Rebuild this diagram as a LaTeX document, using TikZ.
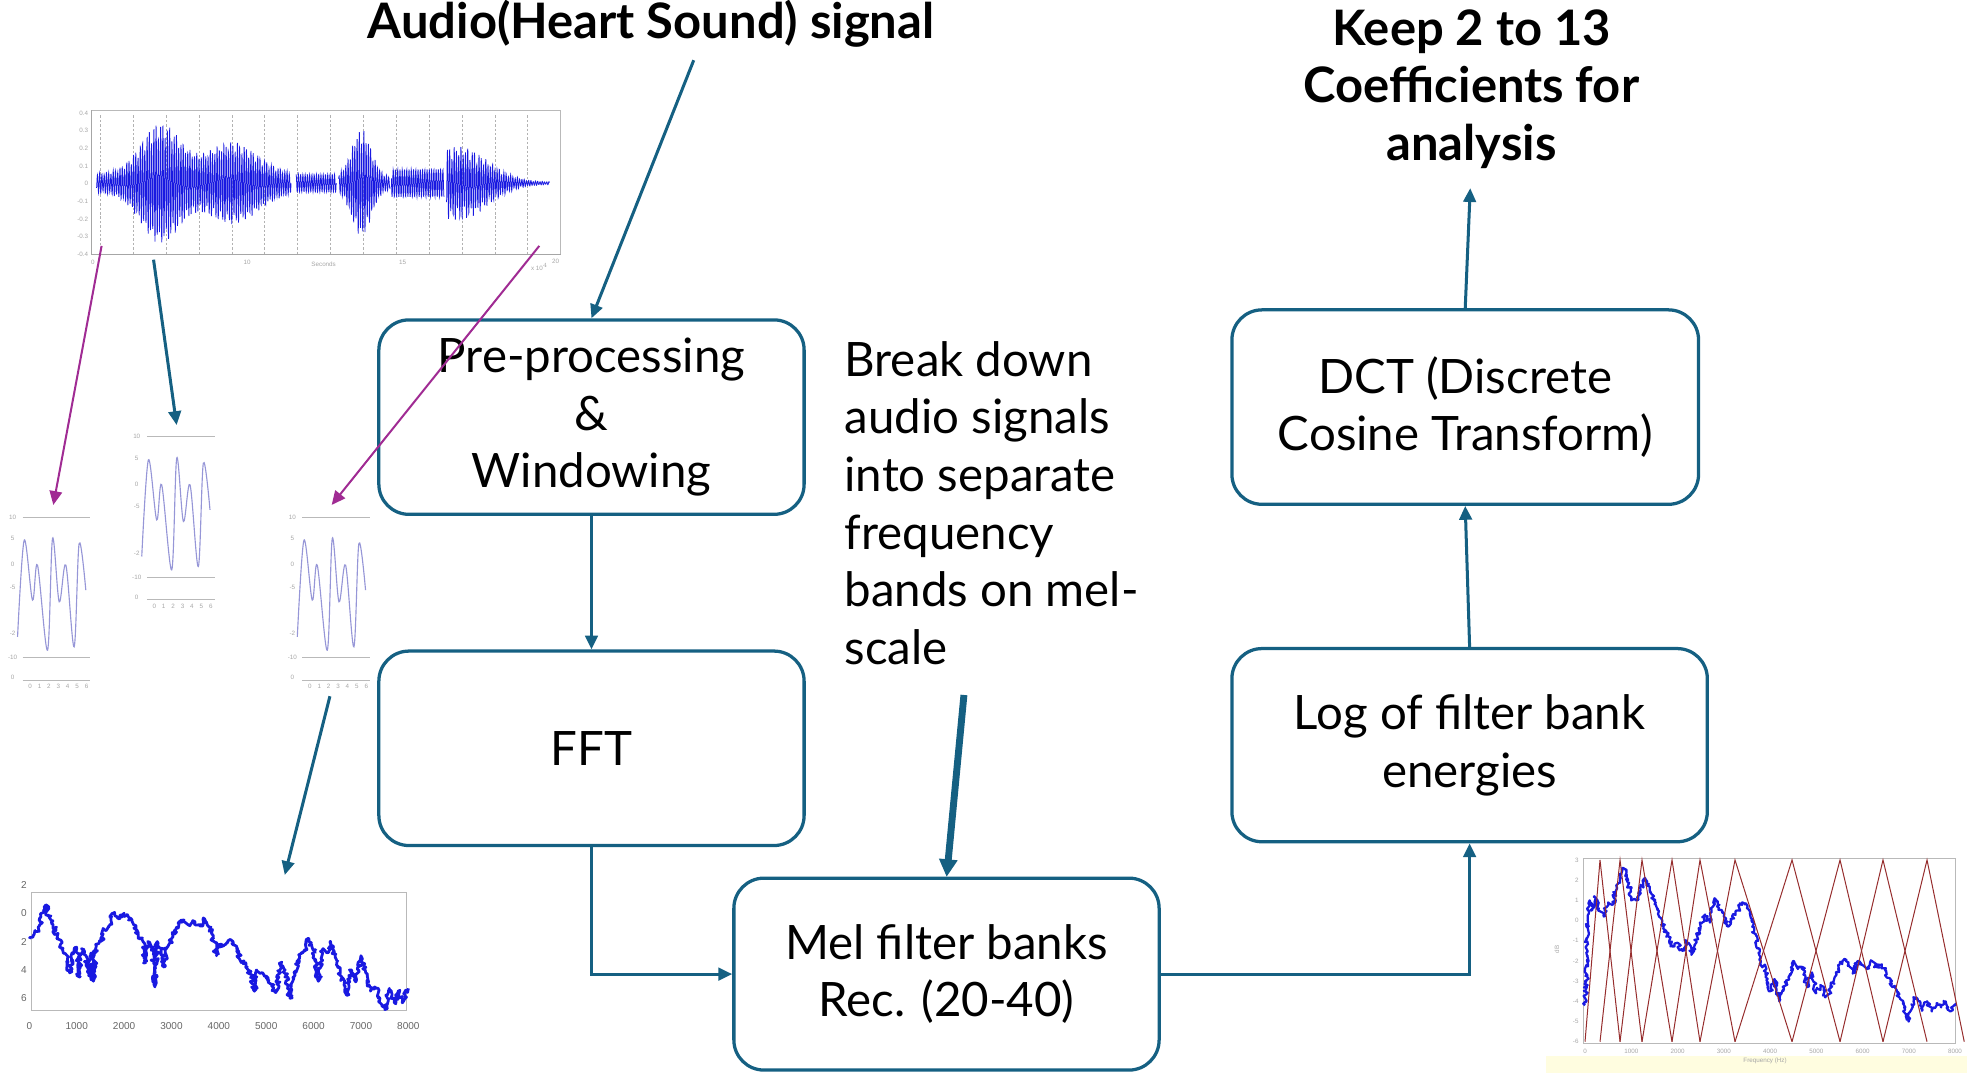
\documentclass[tikz,border=0pt]{standalone}
\usepackage{fontspec}
\setmainfont{Lato}
\newfontfamily\plotfont{Liberation Sans}
\usetikzlibrary{arrows.meta,decorations.pathmorphing,calc}
\definecolor{tealline}{HTML}{156082}
\definecolor{purpline}{HTML}{A02B93}
\definecolor{waveblue}{RGB}{25,25,225}
\definecolor{lavwave}{RGB}{150,150,215}
\definecolor{melred}{RGB}{150,45,45}
\newcommand{\bxfont}{\fontsize{37.8}{46}\selectfont}
\newcommand{\bdfont}{\fontsize{39}{46}\selectfont\bfseries}
\newcommand{\tinyfont}{\plotfont\fontsize{5}{6}\selectfont}
\newcommand{\smfont}{\plotfont\fontsize{8}{9}\selectfont}
\begin{document}
\begin{tikzpicture}[x=1pt,y=-1pt,
  box/.style={draw=tealline, line width=2.6pt, rounded corners=24pt, align=center, font=\bxfont, inner sep=0pt},
  conn/.style={draw=tealline, line width=2.4pt, -{Triangle[length=11pt,width=10pt]}},
  thickconn/.style={draw=tealline, line width=5.5pt, -{Triangle[length=14pt,width=14pt]}},
  pconn/.style={draw=purpline, line width=1.6pt, -{Triangle[length=11pt,width=10pt]}},
  wave/.style={draw=waveblue, line width=0.6pt},
  noisy/.style={draw=waveblue, line width=2.2pt, line join=round, decorate, decoration={random steps, segment length=1.3pt, amplitude=2pt}},
  axisline/.style={draw=gray!55, line width=0.5pt},
  grid/.style={draw=gray!60, line width=0.4pt, dash pattern=on 2pt off 1.5pt},
  ticklab/.style={font=\tinyfont, text=gray!70, inner sep=0.5pt},
  plotlab/.style={font=\smfont, text=gray!80!black, inner sep=0.5pt},
  smallplot/.pic={
    \draw[axisline] (12,8) -- (66,8);
    \draw[axisline] (12,120) -- (66,120);
    \draw[axisline] (12,138) -- (66,138);
    \draw[draw=lavwave, line width=0.9pt] plot[smooth, tension=0.55] coordinates {(8,103.6) (13.3,26.6) (19.9,74.4) (23.9,46.5) (31.9,114.3) (35.9,25.2) (41.2,75.7) (46.5,46.5) (53.1,111.6) (57.1,29.2) (62.4,66.4)};
    \node[ticklab] at (4,8) {10};
    \node[ticklab] at (4,25) {5};
    \node[ticklab] at (4,46) {0};
    \node[ticklab] at (4,64) {-5};
    \node[ticklab] at (4,101) {-2};
    \node[ticklab] at (4,120) {-10};
    \node[ticklab] at (4,136) {0};
    \foreach \k in {0,...,6} {\node[ticklab] at (18+7.5*\k,143) {\k};}
  }
]
\useasboundingbox (0,0) rectangle (1568,855);
\pgfmathsetseed{7}

% ---------------- top-left waveform ----------------
\draw[axisline] (73,88) rectangle (447,203);
\draw[draw=gray!70, line width=1pt] (73,88) -- (73,203) -- (447,203);
\foreach \k in {0,...,13} {\draw[grid] ({80+26.2*\k},92) -- ({80+26.2*\k},203);}
\draw[wave] plot[domain=77:232, samples=900] (\x, {146 - (8+40*exp(-((\x-128)/22)^2)+25*exp(-((\x-185)/28)^2))*(0.7+0.3*abs(sin(360*frac(\x/11))))*sin(360*frac(\x/1.8)+40)});
\draw[wave] plot[domain=236:268, samples=190] (\x, {146 - 7*sin(360*frac(\x/1.8)+40)});
\draw[wave] plot[domain=270:311, samples=240] (\x, {146 - (5+38*exp(-((\x-288)/11)^2))*(0.7+0.3*abs(sin(360*frac(\x/9))))*sin(360*frac(\x/1.8)+40)});
\draw[wave] plot[domain=312:354, samples=240] (\x, {146 - 11*sin(360*frac(\x/1.8)+40)});
\draw[wave] plot[domain=356:438, samples=470] (\x, {146 - (1+29*exp(-((\x-365)/33)^2))*(0.6+0.4*abs(sin(360*frac(\x/10))))*sin(360*frac(\x/1.8)+40)});
\foreach \v [count=\i from 0] in {0.4,0.3,0.2,0.1,0,-0.1,-0.2,-0.3,-0.4} {\node[ticklab, anchor=east] at (71,{90+14.1*\i}) {\v};}
\node[ticklab] at (74,209) {0};
\node[ticklab] at (197,209) {10};
\node[ticklab] at (258,211) {Seconds};
\node[ticklab] at (321,209) {15};
\node[ticklab] at (443,208) {20};
\node[ticklab] at (430,213) {x 10$^4$};

% ---------------- small frames ----------------
\pic at (6,404) {smallplot};
\pic at (105,340) {smallplot};
\pic at (229,404) {smallplot};

% ---------------- bottom-left spectrum ----------------
\draw[axisline] (25.2,711) rectangle (324.2,805);
\node[plotlab, anchor=east] at (22,705.4) {2};
\node[plotlab, anchor=east] at (22,728.0) {0};
\node[plotlab, anchor=east] at (22,750.6) {2};
\node[plotlab, anchor=east] at (22,773.2) {4};
\node[plotlab, anchor=east] at (22,795.7) {6};
\foreach \f in {0,1000,...,8000} {\node[plotlab] at ({23.4+0.037765*\f},818) {\f};}
\begin{scope}[shift={(23.4,728)}, x=0.037765pt, y=11.29pt]
\draw[noisy] plot coordinates {(0,-1.8) (100,-1.5) (200,-1.2) (300,0.2) (350,0.6) (400,-0.2) (500,-0.8) (600,-1.8) (700,-2.5) (800,-3.0) (850,-4.2) (900,-2.8) (1000,-2.5) (1050,-4.5) (1100,-2.5) (1200,-3.0) (1250,-4.4) (1300,-2.8) (1350,-4.8) (1400,-2.2) (1500,-2.0) (1600,-1.2) (1700,-0.8) (1750,0.0) (1900,-0.4) (2000,0.0) (2100,-0.3) (2200,-0.8) (2300,-1.5) (2400,-2.0) (2450,-3.5) (2500,-2.0) (2600,-2.4) (2650,-5.2) (2700,-2.0) (2800,-2.5) (2850,-3.8) (2900,-2.5) (3000,-1.8) (3100,-1.0) (3200,-0.5) (3400,-0.8) (3500,-0.6) (3600,-0.9) (3700,-0.4) (3800,-1.0) (3900,-2.0) (3950,-3.0) (4000,-2.2) (4100,-2.3) (4200,-1.9) (4300,-2.0) (4400,-2.8) (4500,-3.4) (4600,-3.8) (4700,-4.5) (4750,-5.5) (4800,-4.0) (4900,-4.2) (5000,-4.6) (5100,-5.0) (5200,-5.6) (5300,-3.5) (5400,-4.0) (5500,-6.0) (5600,-4.2) (5700,-3.2) (5800,-2.6) (5900,-1.8) (6000,-2.6) (6100,-4.8) (6200,-2.5) (6300,-2.8) (6350,-2.0) (6400,-2.5) (6500,-3.8) (6600,-4.5) (6700,-5.8) (6800,-4.0) (6900,-4.8) (7000,-3.0) (7100,-4.2) (7200,-5.5) (7300,-5.2) (7400,-6.0) (7500,-6.8) (7600,-5.3) (7700,-6.3) (7800,-5.5) (7900,-6.2) (8000,-5.3)};
\end{scope}

% ---------------- bottom-right mel plot ----------------
\fill[yellow!12] (1232,842) rectangle (1568,855);
\draw[axisline] (1261.9,683.9) rectangle (1558.4,831.4);
\foreach \v [count=\i from 0] in {3,2,1,0,-1,-2,-3,-4,-5,-6} {\node[ticklab, anchor=east] at (1259,{685.5+16.1*\i}) {\v};}
\node[ticklab, rotate=90] at (1241,757) {dB};
\foreach \f in {0,1000,...,8000} {\node[ticklab] at ({1263.5+0.036867*\f},838) {\f};}
\node[ticklab] at (1407,846) {Frequency (Hz)};
\begin{scope}[shift={(1263.5,733.8)}, x=0.036867pt, y=16.1pt]
\draw[noisy, line width=1.8pt, decoration={random steps, segment length=1.3pt, amplitude=1.8pt}] plot coordinates {(0,-4.2) (30,-3) (60,0) (100,1) (150,0.5) (200,1.2) (300,0.6) (400,0.2) (500,0.9) (600,0.8) (700,1.8) (800,2.6) (900,2.4) (1000,1.1) (1100,1.0) (1200,1.5) (1300,2.1) (1400,1.6) (1500,0.8) (1600,0.2) (1700,-0.3) (1800,-0.8) (1900,-1.3) (2000,-1.1) (2100,-1.5) (2200,-1.0) (2300,-1.7) (2400,-1.0) (2500,-0.3) (2600,0.3) (2700,-0.1) (2800,1.1) (2900,0.6) (3000,0.2) (3100,-0.3) (3200,0.1) (3300,0.5) (3400,0.9) (3500,0.6) (3600,0.0) (3700,-1.0) (3800,-2.0) (3900,-2.5) (4000,-3.5) (4100,-2.9) (4200,-4.0) (4300,-3.3) (4400,-2.8) (4500,-2.0) (4600,-2.4) (4700,-2.3) (4800,-3.3) (4900,-2.6) (5000,-3.6) (5100,-3.2) (5200,-3.8) (5300,-3.5) (5400,-2.8) (5500,-2.2) (5600,-1.9) (5700,-2.2) (5800,-2.6) (5900,-2.0) (6000,-2.2) (6100,-2.4) (6200,-2.0) (6300,-2.3) (6400,-2.2) (6500,-2.5) (6600,-3.0) (6700,-3.3) (6800,-3.8) (6900,-4.3) (7000,-5.0) (7100,-3.8) (7200,-4.0) (7300,-4.4) (7400,-4.0) (7500,-4.5) (7600,-4.1) (7700,-4.3) (7800,-4.0) (7900,-4.5) (8000,-4.1)};
\foreach \a/\b/\c in {0/324/757, 324/757/1232, 757/1232/1881, 1232/1881/2486, 1881/2486/3243, 2486/3243/4476, 3243/4476/5514, 4476/5514/6443, 5514/6443/7395, 6443/7395/8200}
  {\draw[melred, line width=0.8pt] (\a,-6) -- (\b,3) -- (\c,-6);}
\end{scope}

% ---------------- boxes ----------------
\node[box, minimum width=339pt, minimum height=155pt] (pre) at (471.5,332.5) {Pre-processing\\\&\\Windowing};
\node[box, minimum width=339pt, minimum height=155pt] (fft) at (471.5,596.5) {FFT};
\node[box, minimum width=339pt, minimum height=153pt] (mel) at (754.5,776.5) {Mel filter banks\\Rec. (20-40)};
\node[box, minimum width=379pt, minimum height=154pt] (log) at (1171.5,594) {Log of filter bank\\energies};
\node[box, minimum width=372pt, minimum height=155pt] (dct) at (1168,324.5) {DCT (Discrete\\Cosine Transform)};

% ---------------- texts ----------------
\node[font=\bdfont, inner sep=0pt] (audio) at (519,19) {Audio(Heart Sound) signal};
\node[font=\bdfont, align=center, inner sep=0pt] (keep) at (1173,71) {Keep 2 to 13\\Coefficients for\\analysis};
\node[font=\bxfont, align=left, anchor=west, inner sep=0pt] (break) at (673,401) {Break down\\audio signals\\into separate\\frequency\\bands on mel-\\scale};

% ---------------- coordinates ----------------
\coordinate (audiostart) at (553,48);
\coordinate (keepend) at (1172,150);
\coordinate (breakstart) at (768.4,554);
\coordinate (melin) at (754.6,699);
\coordinate (p1s) at (81,196);
\coordinate (p1e) at (42.5,402.5);
\coordinate (t1s) at (122.4,207);
\coordinate (t1e) at (140.8,338.8);
\coordinate (p2s) at (429.9,196);
\coordinate (p2e) at (264.4,402.5);
\coordinate (t2s) at (263,555);
\coordinate (t2e) at (227,697.5);

% ---------------- connectors ----------------
\draw[conn] (audiostart) -- (pre.north);
\draw[conn] (pre.south) -- (fft.north);
\draw[conn] (fft.south) |- (mel.west);
\draw[conn] (mel.east) -| (log.south);
\draw[conn] (log.north) -- (dct.south);
\draw[conn] (dct.north) -- (keepend);
\draw[thickconn] (breakstart) -- (melin);
\draw[conn] (t1s) -- (t1e);
\draw[conn] (t2s) -- (t2e);
\draw[pconn] (p1s) -- (p1e);
\draw[pconn] (p2s) -- (p2e);
\end{tikzpicture}
\end{document}
